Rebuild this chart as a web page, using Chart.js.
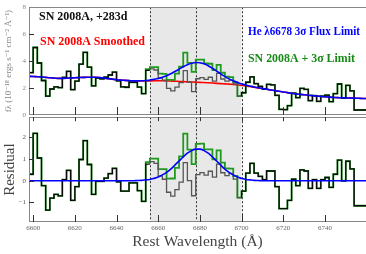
<!DOCTYPE html>
<html>
<head>
<meta charset="utf-8">
<script src="https://cdn.jsdelivr.net/npm/chart.js@4.4.1/dist/chart.umd.min.js"></script>
<style>
  html, body { margin: 0; padding: 0; background: #fff; }
  #wrap { position: relative; width: 366px; height: 254px; overflow: hidden; }
  canvas { position: absolute; left: 0; }
  #top { top: 0; }
  #bottom { top: 110px; }
</style>
</head>
<body>
<div id="wrap">
  <canvas id="top" width="366" height="125"></canvas>
  <canvas id="bottom" width="366" height="144"></canvas>
</div>
<script>
// spectrum bins: 2 A wide, left edges from 6598
const binStart = 6598;
const binWidth = 2;

// observed flux per bin (1e-18 erg/s/cm2/A)
const flux = [
  2.14, 3.15, 5.01, 3.86, 2.56, 1.40, 1.93, 2.09, 2.03, 2.79,
  3.24, 1.88, 2.52, 3.78, 4.65, 3.55, 2.16, 2.73, 2.69, 2.80,
  2.97, 3.18, 2.53, 2.08, 2.06, 2.43, 2.42, 2.07, 1.58, 3.31,
  3.42, 3.34, 2.74, 2.59, 1.98, 1.79, 2.07, 2.41, 3.30, 2.45,
  1.74, 2.69, 2.78, 2.64, 2.80, 2.51, 3.09, 2.67, 2.52, 2.59,
  2.30, 1.40, 1.65, 2.43, 2.83, 2.33, 2.13, 1.93, 2.28, 2.23,
  1.46, 0.42, 0.40, 0.69, 1.62, 1.29, 1.98, 1.90, 1.07, 1.44,
  1.01, 1.39, 1.47, 1.00, 1.58, 2.30, 1.26, 2.20, 1.79, 0.37,
  0.37
];

// residual per bin (flux - smoothed)
const residual = [
  -0.72, 0.30, 2.18, 1.05, -0.22, -1.35, -0.80, -0.63, -0.70, 0.05,
  0.48, -0.90, -0.27, 0.98, 1.85, 0.75, -0.63, -0.03, -0.03, 0.12,
  0.33, 0.57, -0.05, -0.48, -0.48, -0.10, -0.10, -0.45, -0.95, 0.77,
  0.88, 0.80, 0.21, 0.07, -0.53, -0.71, -0.41, -0.06, 0.84, 0.01,
  -0.69, 0.28, 0.38, 0.26, 0.44, 0.17, 0.77, 0.37, 0.24, 0.34,
  0.08, -0.78, -0.48, 0.35, 0.80, 0.35, 0.20, 0.05, 0.45, 0.45,
  -0.27, -1.28, -1.28, -0.90, 0.07, -0.22, 0.50, 0.45, -0.35, 0.05,
  -0.35, 0.05, 0.15, -0.30, 0.30, 0.95, 0.00, 0.90, 0.55, -1.15,
  -1.15
];

// smoothed spectrum, sampled at the bin edges
const smoothed = [
  2.87, 2.86, 2.84, 2.82, 2.79, 2.76, 2.74, 2.72, 2.72, 2.73,
  2.75, 2.77, 2.78, 2.79, 2.80, 2.80, 2.80, 2.78, 2.74, 2.70,
  2.66, 2.62, 2.59, 2.57, 2.55, 2.53, 2.52, 2.52, 2.52, 2.53,
  2.54, 2.54, 2.54, 2.53, 2.52, 2.51, 2.49, 2.48, 2.46, 2.45,
  2.44, 2.42, 2.41, 2.39, 2.37, 2.35, 2.33, 2.31, 2.29, 2.27,
  2.24, 2.20, 2.16, 2.11, 2.06, 2.01, 1.96, 1.91, 1.86, 1.81,
  1.76, 1.71, 1.66, 1.61, 1.57, 1.53, 1.50, 1.47, 1.44, 1.41,
  1.38, 1.35, 1.33, 1.31, 1.29, 1.28, 1.27, 1.26, 1.25, 1.24,
  1.23, 1.22
];

// He 6678 3-sigma flux limit profile, sampled at the bin edges
const heLimit = [
  0, 0, 0, 0, 0, 0, 0, 0, 0, 0,
  0, 0, 0, 0, 0, 0, 0, 0, 0, 0,
  0, 0, 0, 0, 0, 0, 0.01, 0.02, 0.04, 0.06,
  0.11, 0.17, 0.27, 0.39, 0.54, 0.72, 0.91, 1.10, 1.27, 1.39,
  1.46, 1.46, 1.39, 1.27, 1.10, 0.91, 0.72, 0.54, 0.39, 0.27,
  0.17, 0.11, 0.06, 0.04, 0.02, 0.01, 0, 0, 0, 0,
  0, 0, 0, 0, 0, 0, 0, 0, 0, 0,
  0, 0, 0, 0, 0, 0, 0, 0, 0, 0,
  0, 0
];

const region = [6656, 6678, 6700];   // shaded window and line centre
const xTickValues = [6600, 6620, 6640, 6660, 6680, 6700, 6720, 6740];
const xMin = 6598, xMax = 6759.7;

const edges = Array.from({length: flux.length + 1}, (_, i) => binStart + i * binWidth);
const inRegion = i => edges[i] >= region[0] && edges[i] < region[2];
const limitBin = i => (heLimit[i] + heLimit[i + 1]) / 2;

function steps(vals) {
  const pts = vals.map((v, i) => ({x: edges[i], y: v}));
  pts.push({x: edges[vals.length], y: vals[vals.length - 1]});
  return pts;
}
const curve = vals => vals.map((v, i) => ({x: edges[i], y: v}));

const fluxPlusLimit = flux.map((v, i) => inRegion(i) ? v + limitBin(i) : v);
const residPlusLimit = residual.map((v, i) => inRegion(i) ? v + limitBin(i) : v);
const smoothPlusLimit = smoothed.map((v, i) => v + heLimit[i]);

const serif = "'Liberation Serif', 'DejaVu Serif', serif";
const BLUE = '#0000ff', GREEN = '#1f9a1f', RED = '#ff0000';

const blackSeg = {
  borderColor: c => (c.p0.parsed.x >= region[0] && c.p0.parsed.x < region[2]) ? '#555' : '#0a0a0a'
};

const panelPlugin = {
  id: 'panel',
  beforeDatasetsDraw(chart) {
    const {ctx, chartArea: a, scales: {x}} = chart;
    const x0 = x.getPixelForValue(region[0]);
    const x2 = x.getPixelForValue(region[2]);
    ctx.save();
    ctx.fillStyle = '#e8e8e8';
    ctx.fillRect(x0, a.top, x2 - x0, a.bottom - a.top);
    ctx.strokeStyle = '#333';
    ctx.lineWidth = 1;
    ctx.setLineDash([2, 2]);
    region.forEach(w => {
      const px = Math.round(x.getPixelForValue(w)) + 0.5;
      ctx.beginPath();
      ctx.moveTo(px, a.top);
      ctx.lineTo(px, a.bottom);
      ctx.stroke();
    });
    ctx.restore();
  },
  afterDraw(chart, args, opts) {
    const {ctx, chartArea: a, scales: {x, y}} = chart;
    ctx.save();
    ctx.strokeStyle = '#888';
    ctx.lineWidth = 1;
    ctx.strokeRect(Math.round(a.left) + 0.5, Math.round(a.top) + 0.5,
      a.right - a.left + 4, Math.round(a.bottom - a.top) - 1);
    ctx.strokeStyle = '#333';
    ctx.beginPath();
    xTickValues.forEach(v => {
      const px = Math.round(x.getPixelForValue(v)) + 0.5;
      if (opts.bottomLen) { ctx.moveTo(px, a.bottom); ctx.lineTo(px, a.bottom - opts.bottomLen); }
      if (opts.topLen) { ctx.moveTo(px, a.top); ctx.lineTo(px, a.top + opts.topLen); }
    });
    y.ticks.forEach(t => {
      const py = Math.round(y.getPixelForValue(t.value)) + 0.5;
      if (py > a.top + 2 && py < a.bottom - 2) {
        ctx.moveTo(a.left, py);
        ctx.lineTo(a.left + 5, py);
      }
    });
    ctx.stroke();
    ctx.restore();
  }
};

const labelPlugin = {
  id: 'labels',
  afterDatasetsDraw(chart) {
    const ctx = chart.ctx;
    ctx.save();
    ctx.font = 'bold 12px ' + serif;
    ctx.textBaseline = 'alphabetic';
    ctx.fillStyle = '#111';
    ctx.fillText('SN 2008A, +283d', 39, 20, 89);
    ctx.fillStyle = RED;
    ctx.fillText('SN 2008A Smoothed', 40, 45, 105);
    ctx.fillStyle = BLUE;
    ctx.fillText('He λ6678 3σ Flux Limit', 248, 35, 112);
    ctx.fillStyle = '#188a18';
    ctx.fillText('SN 2008A + 3σ Limit', 248, 62, 107);
    ctx.restore();
  }
};

const lineBase = {pointRadius: 0, fill: false};

new Chart(document.getElementById('top'), {
  type: 'line',
  data: {
    datasets: [
      {...lineBase, data: curve(smoothPlusLimit), borderColor: BLUE, borderWidth: 1.6, cubicInterpolationMode: 'monotone'},
      {...lineBase, data: steps(flux), stepped: 'after', borderColor: '#0a0a0a', borderWidth: 1.3, segment: blackSeg},
      {...lineBase, data: steps(fluxPlusLimit), stepped: 'after', borderColor: GREEN, borderWidth: 1.8},
      {...lineBase, data: curve(smoothed), borderColor: RED, borderWidth: 1.6, cubicInterpolationMode: 'monotone'}
    ]
  },
  options: {
    responsive: false,
    animation: false,
    layout: {padding: {top: 6, bottom: 10, left: 0, right: 0}},
    plugins: {legend: {display: false}, tooltip: {enabled: false}, panel: {bottomLen: 8, topLen: 0}},
    scales: {
      x: {type: 'linear', min: xMin, max: xMax, display: false},
      y: {
        min: 0, max: 8,
        ticks: {stepSize: 2, color: '#888', font: {family: serif, size: 7}, padding: 3},
        grid: {display: false, drawTicks: false},
        border: {display: false},
        title: {
          display: true, text: 'fλ (10⁻¹⁸ ergs s⁻¹ cm⁻² Å⁻¹)', color: '#888',
          font: {family: serif, size: 9}, padding: {top: 3, bottom: 0}
        },
        afterFit: s => { s.width = 29; }
      }
    }
  },
  plugins: [panelPlugin, labelPlugin]
});

new Chart(document.getElementById('bottom'), {
  type: 'line',
  data: {
    datasets: [
      {...lineBase, data: curve(heLimit), borderColor: BLUE, borderWidth: 1.6, cubicInterpolationMode: 'monotone'},
      {...lineBase, data: steps(residual), stepped: 'after', borderColor: '#0a0a0a', borderWidth: 1.3, segment: blackSeg},
      {...lineBase, data: steps(residPlusLimit), stepped: 'after', borderColor: GREEN, borderWidth: 1.8}
    ]
  },
  options: {
    responsive: false,
    animation: false,
    layout: {padding: {top: 5, bottom: 0, left: 0, right: 0}},
    plugins: {legend: {display: false}, tooltip: {enabled: false}, panel: {bottomLen: 7, topLen: 4}},
    scales: {
      x: {
        type: 'linear', min: xMin, max: xMax,
        ticks: {stepSize: 20, includeBounds: false, maxRotation: 0, color: '#666',
          font: {family: serif, size: 7}, padding: 2, callback: v => String(v)},
        grid: {display: false, drawTicks: false},
        border: {display: false},
        title: {display: true, text: 'Rest Wavelength (Å)', color: '#444',
          font: {family: serif, size: 15.5}, padding: {top: 0, bottom: 3}},
        afterFit: s => { s.height = 32; }
      },
      y: {
        min: -1.9, max: 2.93,
        ticks: {stepSize: 1, includeBounds: false, color: '#555', font: {family: serif, size: 7}, padding: 3,
          callback: v => v < 0 ? '−' + (-v) : String(v)},
        grid: {display: false, drawTicks: false},
        border: {display: false},
        title: {display: true, text: 'Residual', color: '#444',
          font: {family: serif, size: 15}, padding: {top: 1, bottom: 0}},
        afterFit: s => { s.width = 29; }
      }
    }
  },
  plugins: [panelPlugin]
});
</script>
</body>
</html>
